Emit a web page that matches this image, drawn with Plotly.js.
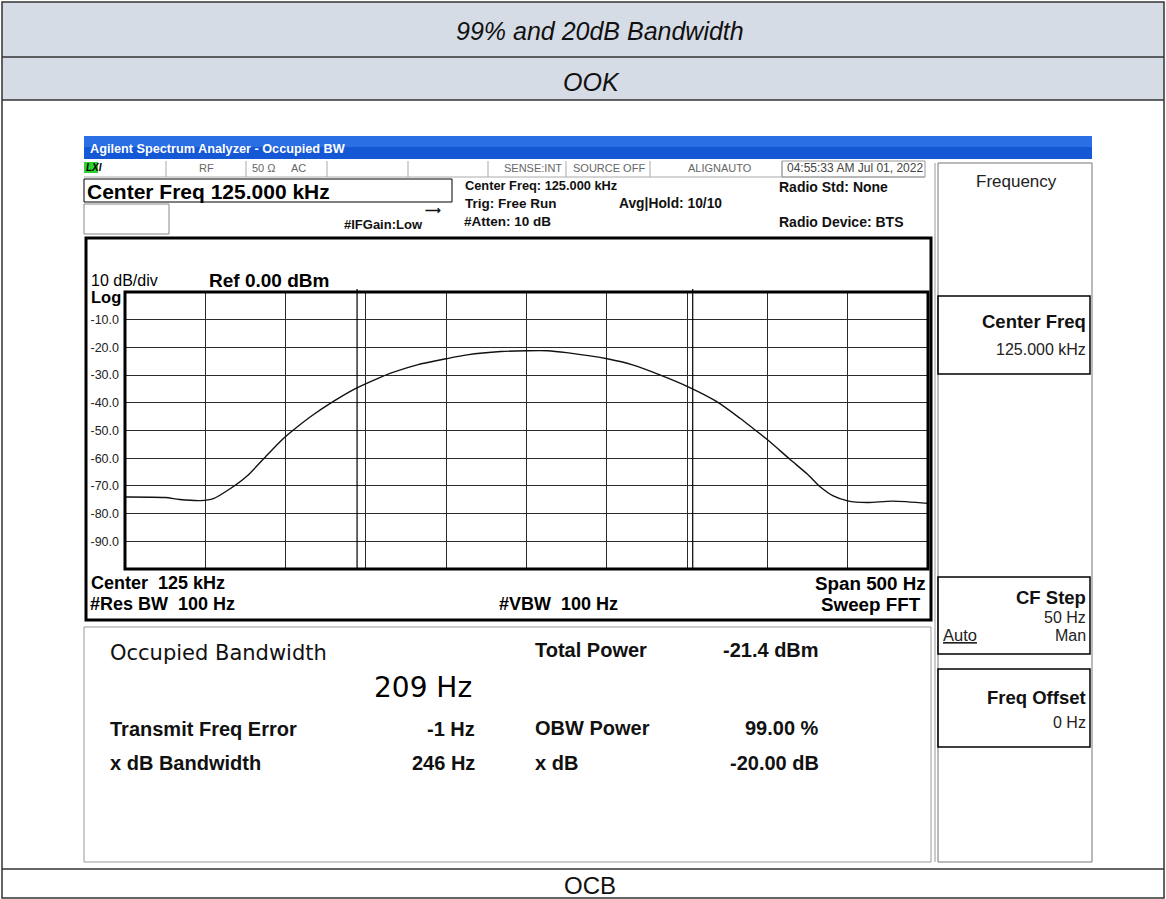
<!DOCTYPE html>
<html>
<head>
<meta charset="utf-8">
<script src="https://cdn.plot.ly/plotly-3.0.1.min.js"></script>
<style>html,body{margin:0;padding:0;background:#fff;}#chart{width:1166px;height:899px;}</style>
</head>
<body>
<div id="chart"></div>
<script>
// ---- data ----
const freqHz = [124750, 124775, 124784, 124797, 124805, 124815, 124826, 124836, 124847, 124852, 124857, 124867, 124880, 124892, 124909, 124915, 124932, 124950, 124963, 124984, 125000, 125013, 125025, 125051, 125066, 125083, 125101, 125118, 125133, 125139, 125151, 125164, 125175, 125183, 125191, 125200, 125212, 125228, 125250];
const levelDbm = [-74.0, -74.2, -74.9, -75.3, -74.6, -71.2, -66.4, -60.4, -53.8, -51.2, -48.8, -44.4, -39.4, -35.3, -30.8, -29.4, -26.3, -24.1, -22.7, -21.5, -21.2, -21.2, -21.9, -24.2, -26.3, -29.9, -34.3, -39.4, -45.6, -48.3, -53.8, -60.4, -65.8, -70.4, -73.6, -75.4, -76.0, -75.5, -76.3];
const obwMarkersHz = [124894.5, 125103.5];
const yTickVals = [-10, -20, -30, -40, -50, -60, -70, -80, -90];
const yTickText = ['-10.0', '-20.0', '-30.0', '-40.0', '-50.0', '-60.0', '-70.0', '-80.0', '-90.0'];
const xRange = [124750, 125250];
const yRange = [-100, 0];

const W = 1166, H = 899;
const FONT = 'Liberation Sans, Arial, sans-serif';
const WIDE = 'DejaVu Sans, Verdana, sans-serif';
const px = x => x / W;
const py = y => 1 - y / H;

const shapes = [];
const annotations = [];
function rect(x0, y0, x1, y1, o) {
  o = o || {};
  shapes.push({type: 'rect', xref: 'paper', yref: 'paper', x0: px(x0), x1: px(x1), y0: py(y1), y1: py(y0),
    fillcolor: o.fill || 'rgba(0,0,0,0)', line: {color: o.color || 'rgba(0,0,0,0)', width: o.width === undefined ? 1 : o.width}, layer: o.layer || 'above'});
}
function line(x0, y0, x1, y1, color, width) {
  shapes.push({type: 'line', xref: 'paper', yref: 'paper', x0: px(x0), x1: px(x1), y0: py(y0), y1: py(y1),
    line: {color: color, width: width}, layer: 'above'});
}
function txt(x, y, s, o) {
  o = o || {};
  annotations.push({xref: 'paper', yref: 'paper', x: px(x), y: py(y), text: s, showarrow: false,
    xanchor: o.anchor || 'left', yanchor: 'middle', align: o.anchor || 'left',
    font: {family: o.family || FONT, size: o.size || 12, color: o.color || '#111'}});
}

// ---- document table ----
rect(2, 2, 1164, 57, {fill: '#d6dce5', layer: 'below', width: 0});
rect(2, 57, 1164, 100, {fill: '#d6dce5', layer: 'below', width: 0});
rect(2, 2, 1164, 898, {color: '#333', width: 1.5});
line(2, 57, 1164, 57, '#333', 1.5);
line(2, 100, 1164, 100, '#333', 1.5);
line(2, 869, 1164, 869, '#333', 1.5);
txt(600, 31, '<i>99% and 20dB Bandwidth</i>', {size: 25, anchor: 'center', color: '#111'});
txt(591, 82, '<i>OOK</i>', {size: 25, anchor: 'center', color: '#111'});
txt(590, 885, 'OCB', {size: 24, anchor: 'center', color: '#111'});

// ---- analyzer window ----
rect(84, 136, 1092, 147, {fill: '#2a6fe3', width: 0, layer: 'below'});
rect(84, 147, 1092, 159, {fill: '#1558d6', width: 0, layer: 'below'});
txt(88, 149, '<b>Agilent Spectrum Analyzer - Occupied BW</b>', {size: 12.7, color: '#fff'});

// status row
rect(84, 162, 98, 173, {fill: '#2fd12f', width: 0, layer: 'below'});
txt(84, 168, '<b><i>LXI</i></b>', {size: 10, color: '#000'});
line(84, 177, 925, 177, '#aaa', 1);
[166, 246, 327, 408, 488, 566, 650, 782].forEach(x => line(x, 161, x, 177, '#aaa', 1));
rect(782, 161, 925, 177, {color: '#999', width: 1});
const statusCol = '#666';
txt(206, 168, 'RF', {size: 11, color: statusCol, anchor: 'center'});
txt(264, 168, '50 Ω', {size: 11, color: statusCol, anchor: 'center'});
txt(298, 168, 'AC', {size: 11, color: statusCol, anchor: 'center'});
txt(564, 168, 'SENSE:INT', {size: 11, color: statusCol, anchor: 'right'});
txt(571, 168, 'SOURCE OFF', {size: 11, color: statusCol});
txt(720, 168, 'ALIGNAUTO', {size: 11, color: statusCol, anchor: 'center'});
txt(785, 168, '04:55:33 AM Jul 01, 2022', {size: 12, color: '#444'});

// top info
rect(84, 179, 452, 202, {color: '#000', width: 1});
txt(85, 191, '<b>Center Freq 125.000 kHz</b>', {size: 21, color: '#000'});
rect(84, 204, 169, 234, {color: '#888', width: 1});
txt(342, 224, '<b>#IFGain:Low</b>', {size: 13, color: '#111'});
txt(433, 210, '<b>⟶</b>', {size: 11, color: '#111', anchor: 'center'});
txt(463, 186, '<b>Center Freq: 125.000 kHz</b>', {size: 12.8, color: '#111'});
txt(463, 204, '<b>Trig: Free Run</b>', {size: 13.5, color: '#111'});
txt(462, 222, '<b>#Atten: 10 dB</b>', {size: 13.5, color: '#111'});
txt(617, 203, '<b>Avg|Hold: 10/10</b>', {size: 13.8, color: '#111'});
txt(777, 187, '<b>Radio Std: None</b>', {size: 14, color: '#111'});
txt(777, 222, '<b>Radio Device: BTS</b>', {size: 14, color: '#111'});

// graph box
rect(86, 238, 931, 620, {color: '#000', width: 3});
line(935, 163, 935, 862, '#999', 1);
txt(89, 280, '10 dB/div', {size: 16, color: '#000'});
txt(207, 280, '<b>Ref 0.00 dBm</b>', {size: 19, color: '#000'});
txt(89, 297, '<b>Log</b>', {size: 16.5, color: '#000'});
txt(89, 583, '<b>Center&nbsp;&nbsp;125 kHz</b>', {size: 18, color: '#000'});
txt(88, 604, '<b>#Res BW&nbsp;&nbsp;100 Hz</b>', {size: 18, color: '#000'});
txt(497, 604, '<b>#VBW&nbsp;&nbsp;100 Hz</b>', {size: 18, color: '#000'});
txt(928, 583, '<b>Span 500 Hz</b>', {size: 18.8, color: '#000', anchor: 'right'});
txt(923, 604, '<b>Sweep FFT</b>', {size: 18.8, color: '#000', anchor: 'right'});

// plot frame
rect(125, 292, 928, 569, {color: '#000', width: 3});
// OBW markers
obwMarkersHz.forEach(f => shapes.push({type: 'line', xref: 'x', yref: 'paper', x0: f, x1: f, y0: py(569), y1: py(289),
  line: {color: '#000', width: 1.2}, layer: 'above'}));

// results panel
rect(84, 627, 931, 862, {color: '#999', width: 1});
txt(108, 653, 'Occupied Bandwidth', {size: 21, color: '#111', family: WIDE});
txt(474, 687, '209 Hz', {size: 28, color: '#000', anchor: 'right', family: WIDE});
txt(108, 729, '<b>Transmit Freq Error</b>', {size: 20, color: '#111'});
txt(477, 729, '<b>-1 Hz</b>', {size: 20, color: '#111', anchor: 'right'});
txt(108, 763, '<b>x dB Bandwidth</b>', {size: 20, color: '#111'});
txt(477, 763, '<b>246 Hz</b>', {size: 20, color: '#111', anchor: 'right'});
txt(533, 650, '<b>Total Power</b>', {size: 20, color: '#111'});
txt(821, 650, '<b>-21.4 dBm</b>', {size: 20, color: '#111', anchor: 'right'});
txt(533, 728, '<b>OBW Power</b>', {size: 20, color: '#111'});
txt(821, 728, '<b>99.00 %</b>', {size: 20, color: '#111', anchor: 'right'});
txt(533, 763, '<b>x dB</b>', {size: 20, color: '#111'});
txt(821, 763, '<b>-20.00 dB</b>', {size: 20, color: '#111', anchor: 'right'});

// right softkey panel
rect(938, 163, 1092, 862, {color: '#777', width: 1});
txt(1016, 181, 'Frequency', {size: 17, color: '#222', anchor: 'center'});
rect(938, 296, 1090, 374, {color: '#000', width: 1.5});
txt(1088, 322, '<b>Center Freq</b>', {size: 18.5, color: '#111', anchor: 'right'});
txt(1088, 349, '125.000 kHz', {size: 16, color: '#222', anchor: 'right'});
rect(938, 577, 1090, 654, {color: '#000', width: 1.5});
txt(1088, 597, '<b>CF Step</b>', {size: 18.5, color: '#111', anchor: 'right'});
txt(1088, 617, '50 Hz', {size: 16, color: '#222', anchor: 'right'});
txt(941, 635, '<u>Auto</u>', {size: 16.5, color: '#222'});
txt(1088, 635, 'Man', {size: 16, color: '#222', anchor: 'right'});
rect(938, 669, 1090, 747, {color: '#000', width: 1.5});
txt(1088, 697, '<b>Freq Offset</b>', {size: 18.5, color: '#111', anchor: 'right'});
txt(1088, 722, '0 Hz', {size: 16, color: '#222', anchor: 'right'});

const trace = {
  x: freqHz, y: levelDbm, type: 'scatter', mode: 'lines',
  line: {color: '#111', width: 1.4, shape: 'spline', smoothing: 0.8},
  hoverinfo: 'skip', showlegend: false
};

const layout = {
  width: W, height: H,
  margin: {l: 0, r: 0, t: 0, b: 0},
  paper_bgcolor: '#ffffff', plot_bgcolor: '#ffffff',
  showlegend: false,
  xaxis: {
    domain: [px(125), px(928)], range: xRange, tick0: xRange[0], dtick: 50,
    showgrid: true, gridcolor: '#2a2a2a', gridwidth: 1, zeroline: false,
    showticklabels: false, ticks: '', showline: false, fixedrange: true
  },
  yaxis: {
    domain: [py(569), py(292)], range: yRange, tickmode: 'array',
    tickvals: yTickVals, ticktext: yTickText,
    showgrid: true, gridcolor: '#2a2a2a', gridwidth: 1, zeroline: false,
    ticks: '', showline: false, ticklabelstandoff: 5,
    tickfont: {family: FONT, size: 12.5, color: '#222'}, fixedrange: true
  },
  shapes: shapes,
  annotations: annotations
};

Plotly.newPlot('chart', [trace], layout, {displayModeBar: false, staticPlot: true});
</script>
</body>
</html>
